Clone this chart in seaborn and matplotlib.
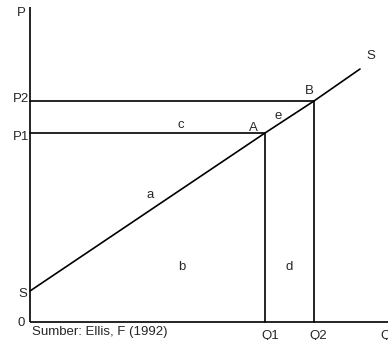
import matplotlib
matplotlib.use("Agg")
import matplotlib.pyplot as plt
import seaborn as sns
import pandas as pd

# --- data ---
supply_q = [0, 235, 284, 330]
supply_p = [31, 189, 221, 253]
Q1, Q2 = 235, 284
P1, P2 = 189, 221
axis_top = 315
axis_right = 358

area_labels = ["a", "b", "c", "d", "e"]
area_q = [120.5, 152, 151, 259.5, 248.5]
area_p = [124, 52, 194, 52, 203]

point_labels = ["A", "B", "S"]
point_q = [223, 279.5, 340.5]
point_p = [191, 228, 263]

sns.set_theme(style="white")
plt.rcParams['font.family'] = ['Liberation Sans', 'DejaVu Sans']
FS = 9.5
LW = 1.2

fig = plt.figure(figsize=(3.88, 3.40), dpi=100)
ax = fig.add_axes([0, 0, 1, 1])
ax.set_xlim(-30, 358)
ax.set_ylim(-18, 322)
ax.axis("off")

# axes lines
ax.plot([0, 0], [0, axis_top], color="black", lw=LW, solid_capstyle="butt")
ax.plot([0, axis_right], [0, 0], color="black", lw=LW, solid_capstyle="butt")

# supply curve
df = pd.DataFrame({"Q": supply_q, "P": supply_p})
sns.lineplot(data=df, x="Q", y="P", ax=ax, color="black", lw=LW, legend=False)

# price lines and quantity lines
ax.plot([0, Q2], [P2, P2], color="black", lw=LW)
ax.plot([0, Q1], [P1, P1], color="black", lw=LW)
ax.plot([Q1, Q1], [0, P1], color="black", lw=LW)
ax.plot([Q2, Q2], [0, P2], color="black", lw=LW)

# axis labels
ax.text(-9, 306, "P", ha="center", va="baseline", fontsize=FS)
ax.text(-0.5, 220.5, "P2", ha="right", va="baseline", fontsize=FS)
ax.text(-0.5, 182, "P1", ha="right", va="baseline", fontsize=FS)
ax.text(-7.5, 25, "S", ha="center", va="baseline", fontsize=FS)
ax.text(-8.5, -4, "0", ha="center", va="baseline", fontsize=FS)
ax.text(2.5, -12.5, "Sumber: Ellis, F (1992)", ha="left", va="baseline", fontsize=FS)
ax.text(231, -16.8, "Q1", ha="left", va="baseline", fontsize=FS)
ax.text(279, -16.8, "Q2", ha="left", va="baseline", fontsize=FS)
ax.text(350, -16.8, "Q", ha="left", va="baseline", fontsize=FS)

for lab, q, p in zip(point_labels, point_q, point_p):
    ax.text(q, p, lab, ha="center", va="baseline", fontsize=FS)
for lab, q, p in zip(area_labels, area_q, area_p):
    ax.text(q, p, lab, ha="center", va="baseline", fontsize=FS)

fig.savefig("out.png", dpi=100)
